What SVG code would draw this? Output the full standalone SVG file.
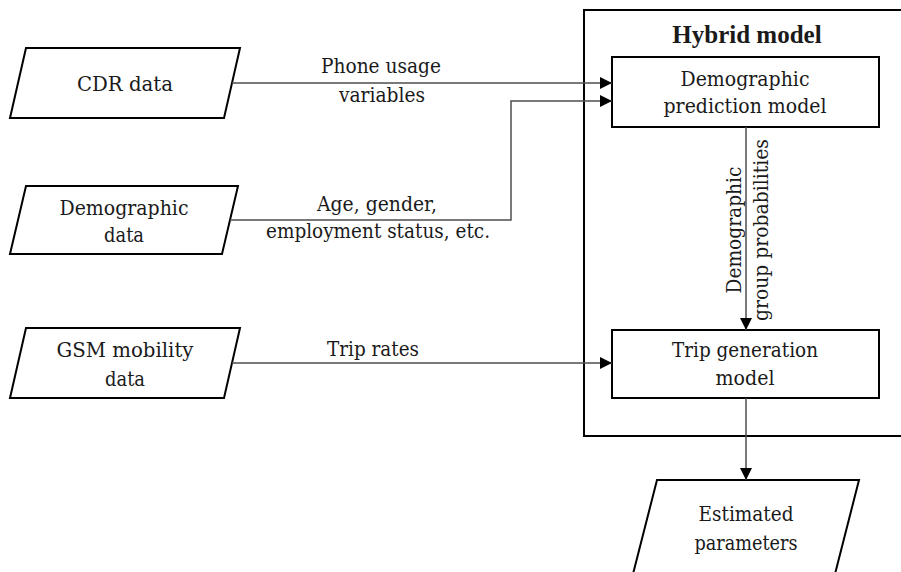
<svg xmlns="http://www.w3.org/2000/svg" width="901" height="572" viewBox="0 0 901 572">
  <style>
    text { font-family: 'DejaVu Serif', serif; font-size: 21px; fill: #1a1a1a; text-anchor: middle; }
    .title { font-family: 'Liberation Serif', 'DejaVu Serif', serif; font-weight: 700; font-size: 25px; }
    .shape { fill: #ffffff; stroke: #000000; stroke-width: 2; }
    .frame { fill: none; stroke: #000000; stroke-width: 2; }
    .link { fill: none; stroke: #4d4d4d; stroke-width: 1.5; }
  </style>
  <defs>
    <marker id="arrow" viewBox="0 0 12 12" refX="12" refY="6" markerWidth="12" markerHeight="12" markerUnits="userSpaceOnUse" orient="auto">
      <path d="M0,0 L12,6 L0,12 Z" fill="#000000"/>
    </marker>
  </defs>
  <rect width="901" height="572" fill="#ffffff"/>

  <!-- container -->
  <g id="hybrid-model">
    <rect class="frame" x="584" y="10" width="330" height="426"/>
    <text class="title" x="747" y="43">Hybrid model</text>
  </g>

  <!-- inputs -->
  <g id="cdr-data">
    <polygon class="shape" points="26,48 240,48 224,118 10,118"/>
    <text x="125" y="91" textLength="96" lengthAdjust="spacingAndGlyphs">CDR data</text>
  </g>
  <g id="demographic-data">
    <polygon class="shape" points="26,186 238,186 222,254 10,254"/>
    <text x="124" y="215" textLength="129" lengthAdjust="spacingAndGlyphs">Demographic</text>
    <text x="124" y="242" textLength="40" lengthAdjust="spacingAndGlyphs">data</text>
  </g>
  <g id="gsm-data">
    <polygon class="shape" points="26,328 240,328 224,398 10,398"/>
    <text x="125" y="357" textLength="137" lengthAdjust="spacingAndGlyphs">GSM mobility</text>
    <text x="125" y="386" textLength="40" lengthAdjust="spacingAndGlyphs">data</text>
  </g>

  <!-- models -->
  <g id="demographic-prediction-model">
    <rect class="shape" x="612" y="57" width="267" height="70"/>
    <text x="745" y="86" textLength="129" lengthAdjust="spacingAndGlyphs">Demographic</text>
    <text x="745" y="113" textLength="163" lengthAdjust="spacingAndGlyphs">prediction model</text>
  </g>
  <g id="trip-generation-model">
    <rect class="shape" x="612" y="330" width="267" height="68"/>
    <text x="745" y="357" textLength="146" lengthAdjust="spacingAndGlyphs">Trip generation</text>
    <text x="745" y="385" textLength="59" lengthAdjust="spacingAndGlyphs">model</text>
  </g>

  <!-- output -->
  <g id="estimated-parameters">
    <polygon class="shape" points="657,480 859,480 835,574 633,574"/>
    <text x="746" y="521" textLength="95" lengthAdjust="spacingAndGlyphs">Estimated</text>
    <text x="746" y="550" textLength="103" lengthAdjust="spacingAndGlyphs">parameters</text>
  </g>

  <!-- connectors and their labels -->
  <g id="connectors">
    <path class="link" d="M232,83 H612" marker-end="url(#arrow)"/>
    <path class="link" d="M230,220 H511 V101 H612" marker-end="url(#arrow)"/>
    <path class="link" d="M232,363 H612" marker-end="url(#arrow)"/>
    <path class="link" d="M746,127 V330" marker-end="url(#arrow)"/>
    <path class="link" d="M746,398 V480" marker-end="url(#arrow)"/>

    <text x="381" y="73" textLength="120" lengthAdjust="spacingAndGlyphs">Phone usage</text>
    <text x="382" y="102" textLength="86" lengthAdjust="spacingAndGlyphs">variables</text>
    <text x="377" y="211" textLength="120" lengthAdjust="spacingAndGlyphs">Age, gender,</text>
    <text x="378" y="238" textLength="224" lengthAdjust="spacingAndGlyphs">employment status, etc.</text>
    <text x="373" y="356" textLength="92" lengthAdjust="spacingAndGlyphs">Trip rates</text>
    <text transform="translate(741,230) rotate(-90)" textLength="127" lengthAdjust="spacingAndGlyphs">Demographic</text>
    <text transform="translate(768,230) rotate(-90)" textLength="182" lengthAdjust="spacingAndGlyphs">group probabilities</text>
  </g>
</svg>
